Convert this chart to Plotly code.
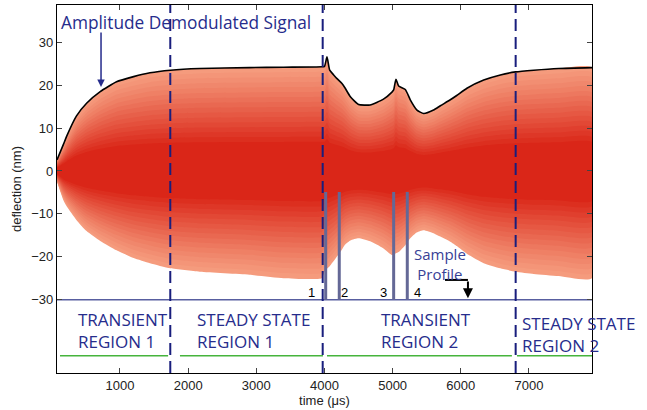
import plotly.graph_objects as go

# ---------------- data ----------------
time_us = [76, 170, 220, 360, 510, 710, 950, 1200, 1440, 1740, 2170, 2900, 3400, 3960,
           4000, 4037, 4077, 4135, 4180, 4257, 4300, 4380, 4500, 4670, 4860, 4990, 5015,
           5049, 5088, 5186, 5259, 5357, 5455, 5600, 5700, 5846, 5940, 6090, 6336, 6580,
           6805, 7070, 7436, 7925]
upper_env = [2.6, 6.2, 8.2, 12.8, 15.8, 18.5, 20.8, 22.0, 22.9, 23.5, 23.9, 24.1, 24.2, 24.3,
             24.4, 26.6, 23.5, 22.4, 21.6, 20.4, 19.4, 17.3, 15.5, 15.4, 16.7, 18.4, 18.9,
             21.4, 19.8, 19.0, 16.6, 14.2, 13.4, 14.2, 15.2, 16.6, 17.6, 19.3, 21.2, 22.4,
             23.1, 23.5, 23.9, 24.1]
lower_env = [-2.5, -6.8, -8.3, -11.4, -14.0, -16.3, -18.5, -20.3, -21.5, -22.7, -23.5, -24.2, -25.0, -25.0,
             -23.5, -22.8, -22.2, -21.0, -20.0, -18.3, -17.2, -16.2, -15.7, -16.4, -18.0, -19.6, -19.5,
             -19.2, -18.9, -17.3, -15.7, -14.3, -13.8, -14.5, -15.3, -16.5, -17.5, -19.3, -21.5, -22.7,
             -23.5, -24.0, -24.5, -25.0]

region_bounds = [1738, 3974, 6805]
profile_level = -30
profile_bar_x = [4018, 4217, 5015, 5215]
profile_bar_top = -4.9
profile_labels = ["1", "2", "3", "4"]
profile_label_x = [3812, 4301, 4863, 5362]
profile_label_y = -28.4

underline_y = -43.1
underline_segments = [(120, 1706), (1880, 3978), (4037, 6750), (6824, 7925)]

region_texts = ["TRANSIENT<br>REGION 1", "STEADY STATE<br>REGION 1",
                "TRANSIENT<br>REGION 2", "STEADY STATE<br>REGION 2"]
region_text_x = [355, 2101, 4795, 6868]
region_text_y = [-37.3, -37.3, -37.3, -38.2]

x_range = [76, 7925]
y_range = [-47.1, 38.7]
x_ticks = [1000, 2000, 3000, 4000, 5000, 6000, 7000]
y_ticks = [-30, -20, -10, 0, 10, 20, 30]

# ---------------- styling ----------------
NAVY = "rgb(38,44,140)"
EDGE = (245, 155, 125)
CORE = (218, 38, 24)
N_LAYERS = 16
FRAC_MIN = 0.28

fig = go.Figure()

for i in range(N_LAYERS):
    k = i / (N_LAYERS - 1)
    frac = 1.0 - k * (1.0 - FRAC_MIN)
    kk = k ** 1.1
    col = "rgb(%d,%d,%d)" % tuple(round(e + (c - e) * kk) for e, c in zip(EDGE, CORE))
    xs = time_us + time_us[::-1]
    ys = [u * frac for u in upper_env] + [l * frac for l in lower_env][::-1]
    fig.add_trace(go.Scatter(x=xs, y=ys, fill="toself", fillcolor=col, mode="lines",
                             line=dict(width=0, color=col, shape="spline", smoothing=0.5),
                             hoverinfo="skip"))

# amplitude demodulated envelope
fig.add_trace(go.Scatter(x=time_us, y=upper_env, mode="lines",
                         line=dict(color="black", width=1.6, shape="spline", smoothing=0.5)))

# sample profile baseline
fig.add_trace(go.Scatter(x=x_range, y=[profile_level, profile_level], mode="lines",
                         line=dict(color="rgb(88,94,160)", width=1.5)))
# sample profile bars
bx, by = [], []
for xb in profile_bar_x:
    bx += [xb, xb, None]
    by += [profile_level, profile_bar_top, None]
fig.add_trace(go.Scatter(x=bx, y=by, mode="lines",
                         line=dict(color="rgb(100,104,150)", width=3)))

# green underlines
gx, gy = [], []
for a, b in underline_segments:
    gx += [a, b, None]
    gy += [underline_y, underline_y, None]
fig.add_trace(go.Scatter(x=gx, y=gy, mode="lines",
                         line=dict(color="rgb(70,180,60)", width=1.5)))

# black elbow arrow (horizontal part)
fig.add_trace(go.Scatter(x=[5768, 6105], y=[-25.4, -25.4], mode="lines",
                         line=dict(color="black", width=2)))

# region boundaries
for xb in region_bounds:
    fig.add_vline(x=xb, line=dict(color="rgb(25,30,125)", width=2, dash="12px,6px"))

ann = []
for t, x, y in zip(region_texts, region_text_x, region_text_y):
    ann.append(dict(x=x, y=y, xref="x", yref="y", text=t, showarrow=False,
                    xanchor="left", yanchor="middle", align="left",
                    font=dict(family="Open Sans", size=17, color=NAVY)))
for t, x in zip(profile_labels, profile_label_x):
    ann.append(dict(x=x, y=profile_label_y, xref="x", yref="y", text=t, showarrow=False,
                    xanchor="center", yanchor="middle",
                    font=dict(family="Liberation Sans", size=13, color="black")))
ann.append(dict(x=106, y=34.7, xref="x", yref="y", text="Amplitude Demodulated Signal",
                showarrow=False, xanchor="left", yanchor="middle",
                font=dict(family="Open Sans", size=17.3, color=NAVY)))
ann.append(dict(x=722, y=19.6, xref="x", yref="y", text="", showarrow=True,
                ax=0, ay=-56, arrowhead=2, arrowsize=1, arrowwidth=1.5, arrowcolor=NAVY))
ann.append(dict(x=5694, y=-21.7, xref="x", yref="y", text="Sample<br>Profile",
                showarrow=False, xanchor="center", yanchor="middle", align="center",
                font=dict(family="Open Sans", size=15, color="rgb(55,65,150)")))
ann.append(dict(x=6105, y=-29.7, xref="x", yref="y", ax=6105, ay=-25.4, axref="x", ayref="y",
                text="", showarrow=True, arrowhead=2, arrowsize=1, arrowwidth=2,
                arrowcolor="black"))

fig.update_layout(
    width=647, height=410, margin=dict(l=57, r=55, t=5, b=37),
    paper_bgcolor="white", plot_bgcolor="white", showlegend=False,
    annotations=ann,
    xaxis=dict(range=x_range, tickvals=x_ticks, ticks="inside", ticklen=5,
               showline=True, linecolor="black", linewidth=1.4, mirror="ticks",
               showgrid=False, zeroline=False,
               tickfont=dict(family="Liberation Sans", size=13, color="#222"),
               title=dict(text="time (μs)", standoff=2,
                          font=dict(family="Liberation Sans", size=13, color="#222"))),
    yaxis=dict(range=y_range, tickvals=y_ticks, ticks="inside", ticklen=5,
               showline=True, linecolor="black", linewidth=1.4, mirror="ticks",
               showgrid=False, zeroline=False,
               tickfont=dict(family="Liberation Sans", size=13, color="#222"),
               title=dict(text="deflection (nm)", standoff=6,
                          font=dict(family="Liberation Sans", size=13, color="#222"))),
)

fig.write_html("out.html")
